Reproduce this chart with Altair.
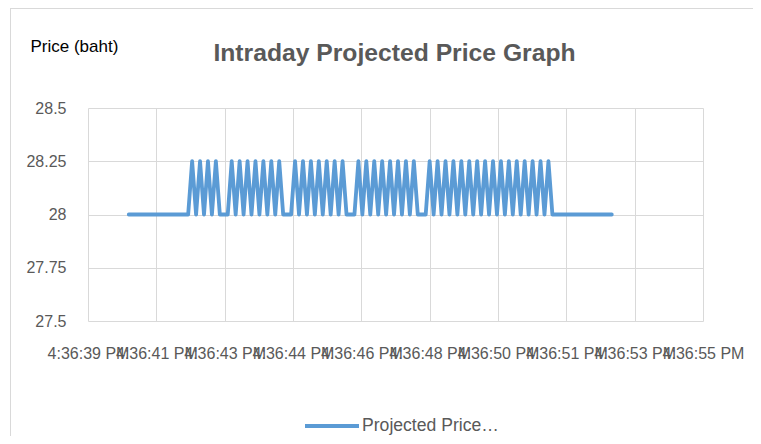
import json
import altair as alt
import pandas as pd

# ---- data -------------------------------------------------------------
TIME_LABELS = [
    "4:36:39 PM", "4:36:41 PM", "4:36:43 PM", "4:36:44 PM", "4:36:46 PM",
    "4:36:48 PM", "4:36:50 PM", "4:36:51 PM", "4:36:53 PM", "4:36:55 PM",
]
Y_TICKS = [27.5, 27.75, 28, 28.25, 28.5]
SERIES = "Projected Price…"
PRICES = [
    28, 28, 28, 28, 28, 28, 28, 28, 28, 28, 28, 28, 28, 28, 28, 28,
    28.25, 28, 28.25, 28, 28.25, 28, 28.25,
    28, 28, 28,
    28.25, 28, 28.25, 28, 28.25, 28, 28.25, 28, 28.25, 28, 28.25, 28, 28.25,
    28, 28, 28,
    28.25, 28, 28.25, 28, 28.25, 28, 28.25, 28, 28.25, 28, 28.25, 28, 28.25,
    28, 28, 28,
    28.25, 28, 28.25, 28, 28.25, 28, 28.25, 28, 28.25, 28, 28.25, 28, 28.25,
    28, 28.25,
    28, 28, 28,
    28.25, 28, 28.25, 28, 28.25, 28, 28.25, 28, 28.25, 28, 28.25, 28, 28.25,
    28, 28.25, 28, 28.25, 28, 28.25, 28, 28.25, 28, 28.25, 28, 28.25, 28,
    28.25, 28, 28.25, 28, 28.25,
    28, 28, 28, 28, 28, 28, 28, 28, 28, 28, 28, 28, 28, 28, 28, 28,
]

# axis geometry (in sample-index units)
X_START = -10.3
X_STEP = 17.26
x_ticks = [round(X_START + k * X_STEP, 4) for k in range(len(TIME_LABELS))]

df = pd.DataFrame({
    "sample": list(range(len(PRICES))),
    "price": PRICES,
    "series": [SERIES] * len(PRICES),
})

label_expr = f"{json.dumps(TIME_LABELS)}[round((datum.value - ({X_START})) / {X_STEP})]"

FONT = "Liberation Sans"
GRID = "#d9d9d9"
TEXT = "#595959"

line = alt.Chart(df).mark_line(strokeWidth=3.8, strokeCap="round", strokeJoin="round").encode(
    x=alt.X(
        "sample:Q",
        scale=alt.Scale(domain=[x_ticks[0], x_ticks[-1]], nice=False, zero=False),
        axis=alt.Axis(
            values=x_ticks, labelExpr=label_expr, title=None,
            grid=True, gridColor=GRID, domain=False, ticks=False, tickSize=0,
            labelOverlap=False, labelFlush=False, labelBound=False,
            labelFont=FONT, labelFontSize=16, labelColor=TEXT,
            labelBaseline="alphabetic", labelPadding=37,
        ),
    ),
    y=alt.Y(
        "price:Q",
        scale=alt.Scale(domain=[27.5, 28.5], nice=False, zero=False),
        axis=alt.Axis(
            values=Y_TICKS, labelExpr="'' + datum.value",
            title="Price (baht)", titleAngle=0, titleX=-58, titleY=-57,
            titleAlign="left", titleBaseline="alphabetic",
            titleFont=FONT, titleFontSize=17, titleFontWeight="normal", titleColor="#000000",
            grid=True, gridColor=GRID, domain=False, ticks=False, tickSize=0,
            labelFont=FONT, labelFontSize=16, labelColor=TEXT, labelPadding=22,
        ),
    ),
    color=alt.Color(
        "series:N",
        scale=alt.Scale(domain=[SERIES], range=["#5b9bd5"]),
        legend=alt.Legend(
            orient="none", legendX=215, legendY=289, title=None,
            symbolType="stroke", symbolSize=2916, symbolStrokeWidth=4,
            labelFont=FONT, labelFontSize=17.6, labelColor=TEXT,
            labelOffset=1, labelLimit=400, padding=0,
        ),
    ),
)

frame_df = pd.DataFrame({"k": [0]})
frame_left = alt.Chart(frame_df).mark_rule(color=GRID, strokeWidth=1).encode(
    x=alt.value(-77.5), y=alt.value(-100), y2=alt.value(330)
)
frame_top = alt.Chart(frame_df).mark_rule(color=GRID, strokeWidth=1).encode(
    x=alt.value(-78), x2=alt.value(665), y=alt.value(-99.5)
)

chart = alt.layer(frame_left, frame_top, line).properties(
    width=615,
    height=213,
    title=alt.TitleParams(
        text="Intraday Projected Price Graph", font=FONT, fontSize=24.7,
        fontWeight="bold", color=TEXT, anchor="middle", frame="group",
        baseline="alphabetic", offset=0, dy=78, dx=-1,
    ),
    padding={"left": 80, "top": 100, "right": 50, "bottom": 115},
    autosize=alt.AutoSizeParams(type="none"),
).configure_view(strokeWidth=0)

chart.save("out.html", embed_options={"renderer": "svg", "actions": False})
